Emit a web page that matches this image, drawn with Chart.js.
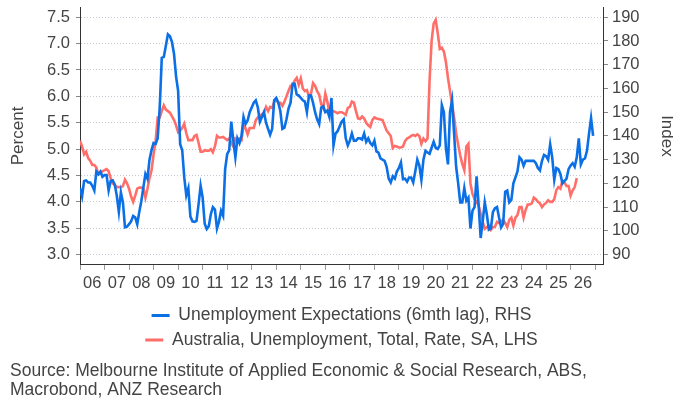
<!DOCTYPE html>
<html>
<head>
<meta charset="utf-8">
<title>Unemployment expectations vs unemployment rate</title>
<script src="https://cdn.jsdelivr.net/npm/chart.js@4.4.1/dist/chart.umd.min.js"></script>
<style>
  body { margin: 0; background: #fff; }
  #wrap { width: 673px; height: 400px; }
</style>
</head>
<body>
<div id="wrap"><canvas id="chart"></canvas></div>
<script>
// monthly series, first point = Jan 2006
var startYear = 2006;
var yearLabels = ['06', '07', '08', '09', '10', '11', '12', '13', '14', '15', '16',
  '17', '18', '19', '20', '21', '22', '23', '24', '25', '26'];

// Unemployment Expectations index (6mth lag), RHS
var expectations = [
  118, 114.5, 121, 121.2, 120.4, 120.4, 119, 117, 125, 123.9, 125, 122.8,
  123.5, 123.5, 117, 121, 121.3, 119.5, 114.8, 108, 116.2, 112, 101.5, 101.8,
  102.8, 104, 106.3, 105.7, 102.8, 108, 112.5, 118.3, 124, 122, 130, 134,
  137, 136.7, 139, 152, 172.9, 173.3, 178, 182.8, 182, 179.5, 174.5, 165,
  159, 136.5, 134, 122.5, 115, 118, 106, 104, 103.8, 104.2, 111.3, 119,
  114, 103, 100.8, 102, 107, 110, 109, 101, 104, 108.5, 106.4, 126,
  132.3, 134, 146, 138, 131, 139, 137, 140, 148, 145, 146.5, 150,
  152, 154, 155, 152, 146, 148, 150, 145.6, 143, 140.5, 143, 155,
  156, 154, 150.5, 143, 143.5, 147, 151.5, 154, 162, 162, 157.5, 157,
  156, 155, 154.5, 150, 157, 157, 154, 150, 147, 145, 152, 152.5,
  150, 150.7, 148, 156, 136, 141, 142, 144, 146, 147, 139, 136,
  138, 141, 138, 138, 139, 139, 138.5, 141, 137.5, 139, 137, 136,
  138, 133.5, 133, 130.5, 130, 129.5, 127, 122, 120.4, 123, 122, 125,
  126.5, 128.8, 121.8, 122, 120.7, 122.5, 122.5, 120.4, 125, 130, 127.5, 121.5,
  130, 133.7, 133, 132.5, 135, 137.5, 135, 134.5, 136, 153, 150, 135,
  128, 150, 155, 141, 127, 120, 112, 112, 118, 112.7, 114, 101,
  108.5, 110, 123, 111, 97, 104, 112, 107, 100.5, 101, 108, 109.5,
  110, 105.5, 101.5, 103, 116.5, 117, 112, 113, 120, 122.5, 125, 131,
  130, 127.4, 129.5, 129.5, 129.5, 129.5, 129.5, 128.5, 126.5, 125.5, 129.5, 132,
  131.5, 130, 136.5, 131, 121.5, 126.5, 126, 124, 120, 121, 122, 126,
  127.5, 128.5, 127, 131, 139, 128, 130, 130.5, 133.7, 141, 147.5, 140
];

// Australia unemployment rate, SA, %, LHS
var unemployment = [
  5.16, 5.05, 4.9, 4.95, 4.83, 4.78, 4.7, 4.7, 4.65, 4.52, 4.55, 4.58,
  4.6, 4.62, 4.58, 4.45, 4.35, 4.32, 4.28, 4.28, 4.28, 4.3, 4.42, 4.35,
  4.25, 4.1, 4.0, 4.12, 4.25, 4.27, 4.27, 4.25, 4.08, 4.25, 4.45, 4.6,
  4.9, 5.15, 5.6, 5.6, 5.72, 5.83, 5.75, 5.72, 5.69, 5.62, 5.55, 5.45,
  5.32, 5.35, 5.4, 5.48, 5.3, 5.17, 5.17, 5.17, 5.25, 5.27, 5.12, 4.95,
  4.95, 4.98, 4.97, 4.97, 5.0, 4.94, 5.05, 5.25, 5.22, 5.22, 5.23, 5.2,
  5.17, 5.2, 5.12, 5.05, 5.2, 5.17, 5.2, 5.17, 5.45, 5.4, 5.28, 5.4,
  5.4, 5.4, 5.55, 5.6, 5.63, 5.66, 5.7, 5.8, 5.72, 5.8, 5.78, 5.9,
  5.94, 5.88, 5.88, 5.82, 5.9, 6.0, 6.1, 6.2, 6.2, 6.3, 6.35, 6.22,
  6.34, 6.15, 6.1, 6.12, 6.0, 6.05, 6.25, 6.2, 6.1, 6.03, 5.85, 5.78,
  6.05, 5.9, 5.7, 5.7, 5.72, 5.7, 5.68, 5.7, 5.7, 5.68, 5.65, 5.78,
  5.8, 5.9, 5.88, 5.72, 5.58, 5.57, 5.62, 5.58, 5.5, 5.45, 5.42, 5.55,
  5.6, 5.58, 5.57, 5.56, 5.55, 5.45, 5.35, 5.3, 5.25, 5.02, 5.06, 5.05,
  5.03, 5.03, 5.05, 5.15, 5.2, 5.22, 5.25, 5.27, 5.25, 5.28, 5.25, 5.1,
  5.2, 5.15, 5.2, 6.3, 7.05, 7.38, 7.45, 7.2, 6.9, 6.92, 6.85, 6.65,
  6.35, 6.1, 5.85, 5.6, 5.3, 5.08, 4.88, 4.72, 4.6, 5.05, 5.1, 4.35,
  4.15, 4.05, 4.0, 3.93, 3.78, 3.62, 3.49, 3.52, 3.55, 3.47, 3.52, 3.53,
  3.62, 3.6, 3.63, 3.66, 3.6, 3.52, 3.66, 3.7, 3.55, 3.7, 3.75, 3.9,
  3.9, 3.7, 3.85, 3.95, 3.95, 3.97, 4.08, 4.05, 4.0, 3.97, 3.9, 3.95,
  3.98, 4.03, 4.0, 4.0, 4.05, 4.22, 4.28, 4.25, 4.4, 4.37, 4.3, 4.3,
  4.12, 4.22, 4.28, 4.45
];

var sourceLines = [
  'Source: Melbourne Institute of Applied Economic & Social Research, ABS,',
  'Macrobond, ANZ Research'
];

function toPoints(values) {
  var pts = [];
  for (var i = 0; i < values.length; i++) {
    pts.push({x: startYear + i / 12, y: values[i]});
  }
  return pts;
}

Chart.defaults.font.family = "'Liberation Sans', Arial, sans-serif";
Chart.defaults.color = '#444';

var blue = '#0b6fe6';
var red = '#ff6e69';
var axisColor = '#333';
var textColor = '#444';

new Chart(document.getElementById('chart'), {
  type: 'line',
  data: {
    datasets: [{
      label: 'Unemployment Expectations (6mth lag), RHS',
      data: toPoints(expectations),
      yAxisID: 'y1',
      borderColor: blue,
      backgroundColor: blue,
      borderWidth: 2.6,
      pointRadius: 0,
      tension: 0
    }, {
      label: 'Australia, Unemployment, Total, Rate, SA, LHS',
      data: toPoints(unemployment),
      yAxisID: 'y',
      borderColor: red,
      backgroundColor: red,
      borderWidth: 2.6,
      pointRadius: 0,
      tension: 0
    }]
  },
  options: {
    responsive: true,
    maintainAspectRatio: false,
    animation: false,
    events: [],
    layout: { padding: { top: 7, left: 10, right: 0, bottom: 0 } },
    scales: {
      x: {
        type: 'linear',
        min: 2006,
        max: 2027.32,
        grid: { drawOnChartArea: false, tickLength: 5, tickColor: '#999' },
        border: { color: axisColor },
        ticks: {
          stepSize: 1,
          includeBounds: false,
          autoSkip: false,
          maxRotation: 0,
          labelOffset: 12.3,
          padding: 4,
          color: textColor,
          font: { size: 16.5 },
          callback: function(v) {
            var l = yearLabels[v - startYear];
            return l === undefined ? '' : l;
          }
        },
        afterFit: function(s) {
          s.height = 35;
          s.paddingLeft = 0;
          s.paddingRight = 0;
        }
      },
      y: {
        position: 'left',
        min: 2.806,
        max: 7.694,
        grid: { color: '#c3ccd6', tickLength: 4, tickColor: '#888' },
        border: { color: axisColor, dash: [1, 2] },
        ticks: {
          stepSize: 0.5,
          includeBounds: false,
          padding: 6,
          color: textColor,
          font: { size: 16.5 },
          callback: function(v) { return v.toFixed(1); }
        },
        title: {
          display: true,
          text: 'Percent',
          color: textColor,
          font: { size: 17, lineHeight: 1 },
          padding: 0
        },
        afterFit: function(s) {
          s.width = 70;
          s.paddingTop = 0;
          s.paddingBottom = 0;
        }
      },
      y1: {
        position: 'right',
        min: 85.68,
        max: 194.32,
        grid: { drawOnChartArea: false, tickLength: 5, tickColor: '#888' },
        border: { color: axisColor },
        ticks: {
          stepSize: 10,
          includeBounds: false,
          padding: 4,
          color: textColor,
          font: { size: 16.5 }
        },
        title: {
          display: true,
          text: 'Index',
          color: textColor,
          font: { size: 17, lineHeight: 0.7 },
          padding: 0
        },
        afterFit: function(s) {
          s.width = 70;
          s.paddingTop = 0;
          s.paddingBottom = 0;
        }
      }
    },
    plugins: {
      tooltip: { enabled: false },
      legend: {
        position: 'bottom',
        align: 'center',
        labels: {
          boxWidth: 18,
          boxHeight: 3,
          padding: 7,
          color: textColor,
          font: { size: 17.5 },
          generateLabels: function(chart) {
            var items = Chart.defaults.plugins.legend.labels.generateLabels(chart);
            items.forEach(function(it) {
              it.fillStyle = it.strokeStyle;
              it.strokeStyle = 'rgba(0,0,0,0)';
            });
            return items;
          }
        }
      },
      title: {
        display: true,
        position: 'bottom',
        align: 'start',
        text: sourceLines,
        color: textColor,
        font: { size: 17.5, weight: 'normal', lineHeight: 1.09 },
        padding: { top: 3, bottom: 0 }
      }
    }
  }
});
</script>
</body>
</html>
